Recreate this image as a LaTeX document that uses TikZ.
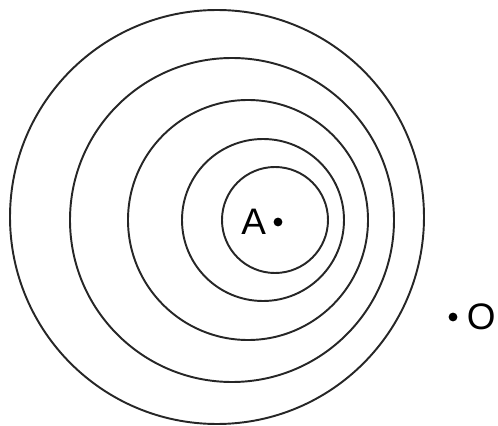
\documentclass[tikz,border=0pt]{standalone}
\usepackage{fontspec}
\setmainfont{Liberation Sans}
\usepackage{tikz}
\usetikzlibrary{positioning}
\tikzset{
  % eccentric rings
  ringln/.style={line width=1.1pt, black!85},
  % small marked points
  ptdot/.style={circle, fill=black, inner sep=0pt, minimum size=5pt},
  % point labels
  ptlabel/.style={font=\fontsize{21}{25}\selectfont, inner sep=1pt},
}

\begin{document}
\begin{tikzpicture}[x=0.02cm, y=-0.02cm]
    \useasboundingbox (0,0) rectangle (498,426);
    % rings, shifting left as they grow
    \foreach \cx/\cy/\r in {275/220/53, 263/220/81, 248/220/120, 232/220/162, 217/217/207}
      \draw[ringln] (\cx,\cy) circle[radius=\r];
    % point A
    \node[ptdot] (A) at (278,222) {};
    \node[ptlabel, left=3pt of A] (Alabel) {A};
    % point O
    \node[ptdot] (O) at (453,317) {};
    \node[ptlabel, right=4pt of O] (Olabel) {O};
  \end{tikzpicture}
\end{document}
